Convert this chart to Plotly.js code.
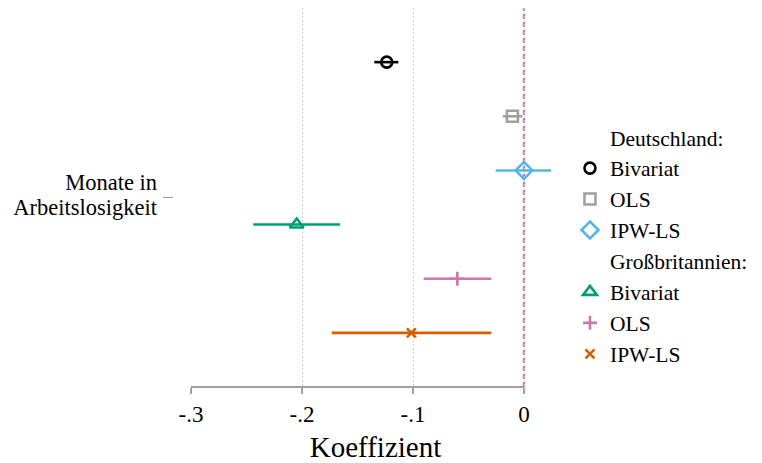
<!DOCTYPE html>
<html>
<head>
<meta charset="utf-8">
<script src="https://cdn.plot.ly/plotly-3.0.1.min.js"></script>
<style>html,body{margin:0;padding:0;background:#fff;}#chart{width:762px;height:463px;}</style>
</head>
<body>
<div id="chart"></div>
<script>
// ---- data ----
const groups = ['Deutschland:', 'Großbritannien:'];
const methods = ['Bivariat', 'OLS', 'IPW-LS'];
const estimates = [-0.1237, -0.0105, 0.0000, -0.2048, -0.0601, -0.1015];
const ciLow     = [-0.1349, -0.0192, -0.0255, -0.2439, -0.0904, -0.1732];
const ciHigh    = [-0.1132, -0.0015, 0.0243, -0.1658, -0.0295, -0.0295];
const yLabelLines = ['Monate in', 'Arbeitslosigkeit'];
const xTickVals = [-0.3, -0.2, -0.1, 0];
const xTickText = ['-.3', '-.2', '-.1', '0'];
const xTitle = 'Koeffizient';

// ---- styles ----
const colors = ['#000000', '#a0a0a0', '#56b4e9', '#009e73', '#cc79a7', '#d55e00'];
const symbols = ['circle-open', 'square-open', 'diamond-open', 'triangle-up-open', 'cross-thin-open', 'x-thin-open'];
const sizes = [11, 11, 13, 12, 10, 9];
const FONT = 'Liberation Serif, Times New Roman, serif';

const traces = [];
groups.forEach((g, gi) => {
  traces.push({
    x: [null], y: [null], type: 'scatter', mode: 'markers', name: g,
    marker: {color: 'rgba(0,0,0,0)', opacity: 0, size: 1},
    hoverinfo: 'skip', showlegend: true
  });
  methods.forEach((m, mi) => {
    const i = gi * methods.length + mi;
    traces.push({
      x: [estimates[i]], y: [i + 1], type: 'scatter', mode: 'markers', name: m,
      marker: {symbol: symbols[i], color: colors[i], size: sizes[i], line: {color: colors[i], width: 2.6}},
      error_x: {type: 'data', symmetric: false, array: [ciHigh[i] - estimates[i]], arrayminus: [estimates[i] - ciLow[i]],
                color: colors[i], thickness: 2.6, width: 0},
      cliponaxis: false
    });
  });
});

const nRows = groups.length * methods.length;
const mid = (nRows + 1) / 2;
const layout = {
  width: 762, height: 463,
  paper_bgcolor: '#ffffff', plot_bgcolor: '#ffffff',
  font: {family: FONT, size: 23, color: '#000000'},
  margin: {l: 173, r: 202, t: 8, b: 76, pad: 0},
  showlegend: true,
  legend: {
    xref: 'container', yref: 'container', x: 0.748, y: 0.748, xanchor: 'left', yanchor: 'top',
    font: {family: FONT, size: 21.5, color: '#000000'}, bgcolor: 'rgba(0,0,0,0)', borderwidth: 0,
    traceorder: 'normal', tracegroupgap: 0, maxheight: 1
  },
  xaxis: {
    domain: [18 / 387, 1],
    range: [-0.3, 0.0324],
    tickvals: xTickVals, ticktext: xTickText,
    showgrid: true, gridcolor: '#d2d2d2', griddash: '1.5px,2.5px', gridwidth: 1,
    zeroline: false, showline: false,
    ticks: 'outside', ticklen: 6, tickwidth: 2, tickcolor: '#a0a0a0',
    tickfont: {family: FONT, size: 23, color: '#000000'},
    title: {text: xTitle, font: {family: FONT, size: 29, color: '#000000'}, standoff: 16},
    fixedrange: true
  },
  yaxis: {
    anchor: 'free', position: 0,
    range: [nRows + 1, 0],
    tickvals: [mid - 0.29, mid + 0.17], ticktext: yLabelLines,
    ticks: '', ticklabelstandoff: 16,
    minor: {tickvals: [mid], ticks: 'outside', ticklen: 10, tickwidth: 1, tickcolor: '#a0a0a0', showgrid: false},
    showgrid: false, zeroline: false, showline: false,
    tickfont: {family: FONT, size: 22.5, color: '#000000'},
    fixedrange: true
  },
  shapes: [
    {type: 'line', xref: 'x', yref: 'paper', x0: xTickVals[0], x1: xTickVals[xTickVals.length - 1], y0: 0, y1: 0,
     line: {color: '#a0a0a0', width: 2}},
    {type: 'line', xref: 'x', yref: 'paper', x0: 0, x1: 0, y0: 0, y1: 1,
     line: {color: '#cc79a7', width: 2.4, dash: '5px,3px'}, layer: 'between'}
  ]
};

Plotly.newPlot('chart', traces, layout, {displayModeBar: false, staticPlot: true});
</script>
</body>
</html>
